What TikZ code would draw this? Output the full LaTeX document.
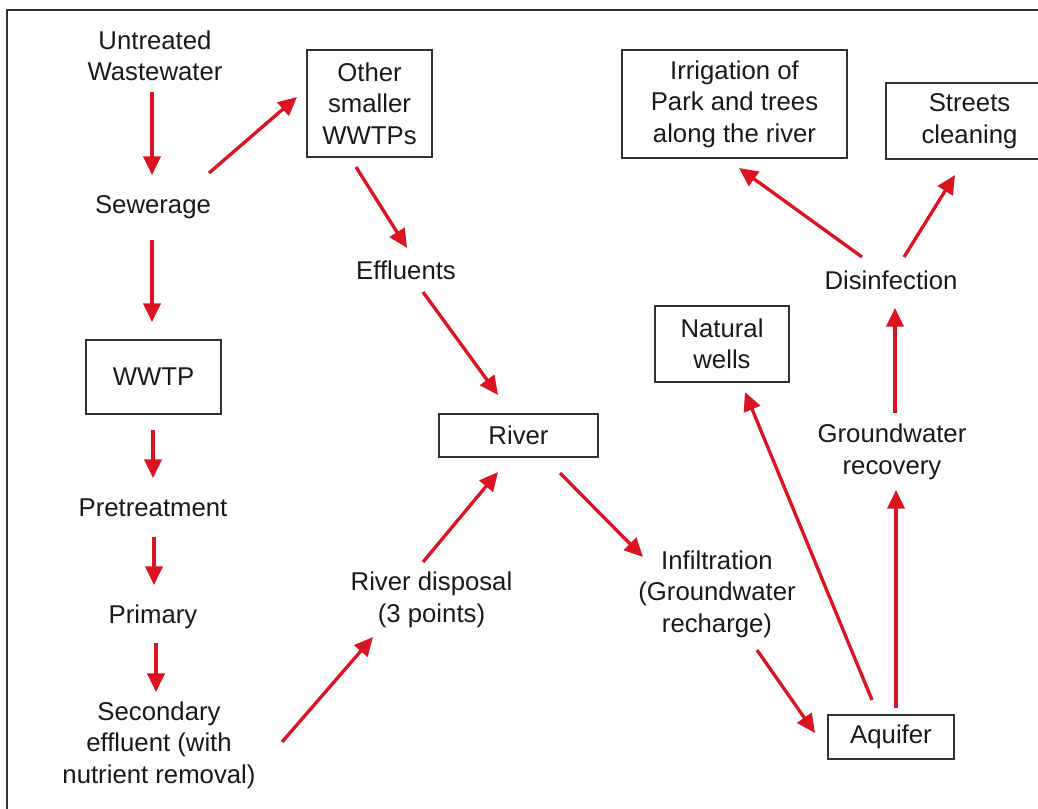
\documentclass[tikz,border=0pt]{standalone}
\usepackage{fontspec}
\setmainfont{Liberation Sans}
\usetikzlibrary{arrows.meta}
\definecolor{arrred}{RGB}{218,20,32}
\definecolor{boxgray}{RGB}{50,50,50}
\tikzset{
  lbl/.style={align=center, inner sep=0pt, font=\fontsize{19.3}{23.6}\selectfont, text=black!90},
  bx/.style={lbl, draw=boxgray, line width=1.1pt},
  arr/.style={draw=arrred, line width=2.5pt, -{Triangle[length=14pt,width=13pt]}},
}
\begin{document}
\begin{tikzpicture}[x=0.75pt,y=-0.75pt]
\useasboundingbox (0,0) rectangle (1038,809);
\begin{scope}
\clip (0,0) rectangle (1038,809);
\draw[boxgray, line width=1.1pt] (7,820) -- (7,10) -- (1050,10);
% nodes
\node[lbl] (uw) at (155,56) {Untreated\\Wastewater};
\node[lbl] (sew) at (153,207) {Sewerage};
\node[bx, minimum width=125*0.75pt, minimum height=107*0.75pt] (other) at (369.5,103.5) {Other\\smaller\\WWTPs};
\node[lbl] (eff) at (406,270) {Effluents};
\node[bx, minimum width=135*0.75pt, minimum height=74*0.75pt] (wwtp) at (153.5,377) {WWTP};
\node[bx, minimum width=159*0.75pt, minimum height=43*0.75pt] (river) at (518.5,435.5) {River};
\node[lbl] (pre) at (153,508) {Pretreatment};
\node[lbl] (prim) at (153,617) {Primary};
\node[lbl] (sec) at (159,745) {Secondary\\effluent (with\\nutrient removal)};
\node[lbl] (rd) at (431.5,600) {River disposal\\(3 points)};
\node[lbl] (inf) at (717,594) {Infiltration\\(Groundwater\\recharge)};
\node[bx, minimum width=126*0.75pt, minimum height=44*0.75pt] (aq) at (891,737) {Aquifer};
\node[bx, minimum width=134*0.75pt, minimum height=76*0.75pt] (nw) at (722,344) {Natural\\wells};
\node[lbl] (gwr) at (892,452) {Groundwater\\recovery};
\node[lbl] (dis) at (891,280) {Disinfection};
\node[bx, minimum width=225*0.75pt, minimum height=108*0.75pt] (irr) at (734.5,104) {Irrigation of\\Park and trees\\along the river};
\node[bx, minimum width=167*0.75pt, minimum height=76*0.75pt, text width=150*0.75pt] (st) at (969.5,121) {Streets\\cleaning};
% connectors
\draw[arr] ([shift={(-3,36)}]uw.center) -- ([shift={(-1,-32)}]sew.center);
\draw[arr] ([shift={(56,-34)}]sew.center) -- ([shift={(-72.5,-6.5)}]other.center);
\draw[arr] ([shift={(-1,33)}]sew.center) -- ([shift={(-1.5,-55)}]wwtp.center);
\draw[arr] ([shift={(-13.5,63.5)}]other.center) -- ([shift={(1,-22)}]eff.center);
\draw[arr] ([shift={(17,22)}]eff.center) -- ([shift={(-20.5,-40.5)}]river.center);
\draw[arr] ([shift={(-0.5,53)}]wwtp.center) -- ([shift={(0,-30)}]pre.center);
\draw[arr] ([shift={(1,29)}]pre.center) -- ([shift={(1,-32)}]prim.center);
\draw[arr] ([shift={(3,26)}]prim.center) -- ([shift={(-3,-53)}]sec.center);
\draw[arr] ([shift={(123,-3)}]sec.center) -- ([shift={(-58.5,37)}]rd.center);
\draw[arr] ([shift={(-8.5,-38)}]rd.center) -- ([shift={(-20.5,36.5)}]river.center);
\draw[arr] ([shift={(41.5,37.5)}]river.center) -- ([shift={(-74,-37)}]inf.center);
\draw[arr] ([shift={(40,56)}]inf.center) -- ([shift={(-76,-4)}]aq.center);
\draw[arr] ([shift={(-19,-37)}]aq.center) -- ([shift={(23,48)}]nw.center);
\draw[arr] ([shift={(5,-29)}]aq.center) -- ([shift={(4,38)}]gwr.center);
\draw[arr] ([shift={(3,-39)}]gwr.center) -- ([shift={(4,28)}]dis.center);
\draw[arr] ([shift={(-29,-23)}]dis.center) -- ([shift={(4.5,64)}]irr.center);
\draw[arr] ([shift={(13,-23)}]dis.center) -- ([shift={(-14.5,54)}]st.center);
\end{scope}
\end{tikzpicture}
\end{document}
